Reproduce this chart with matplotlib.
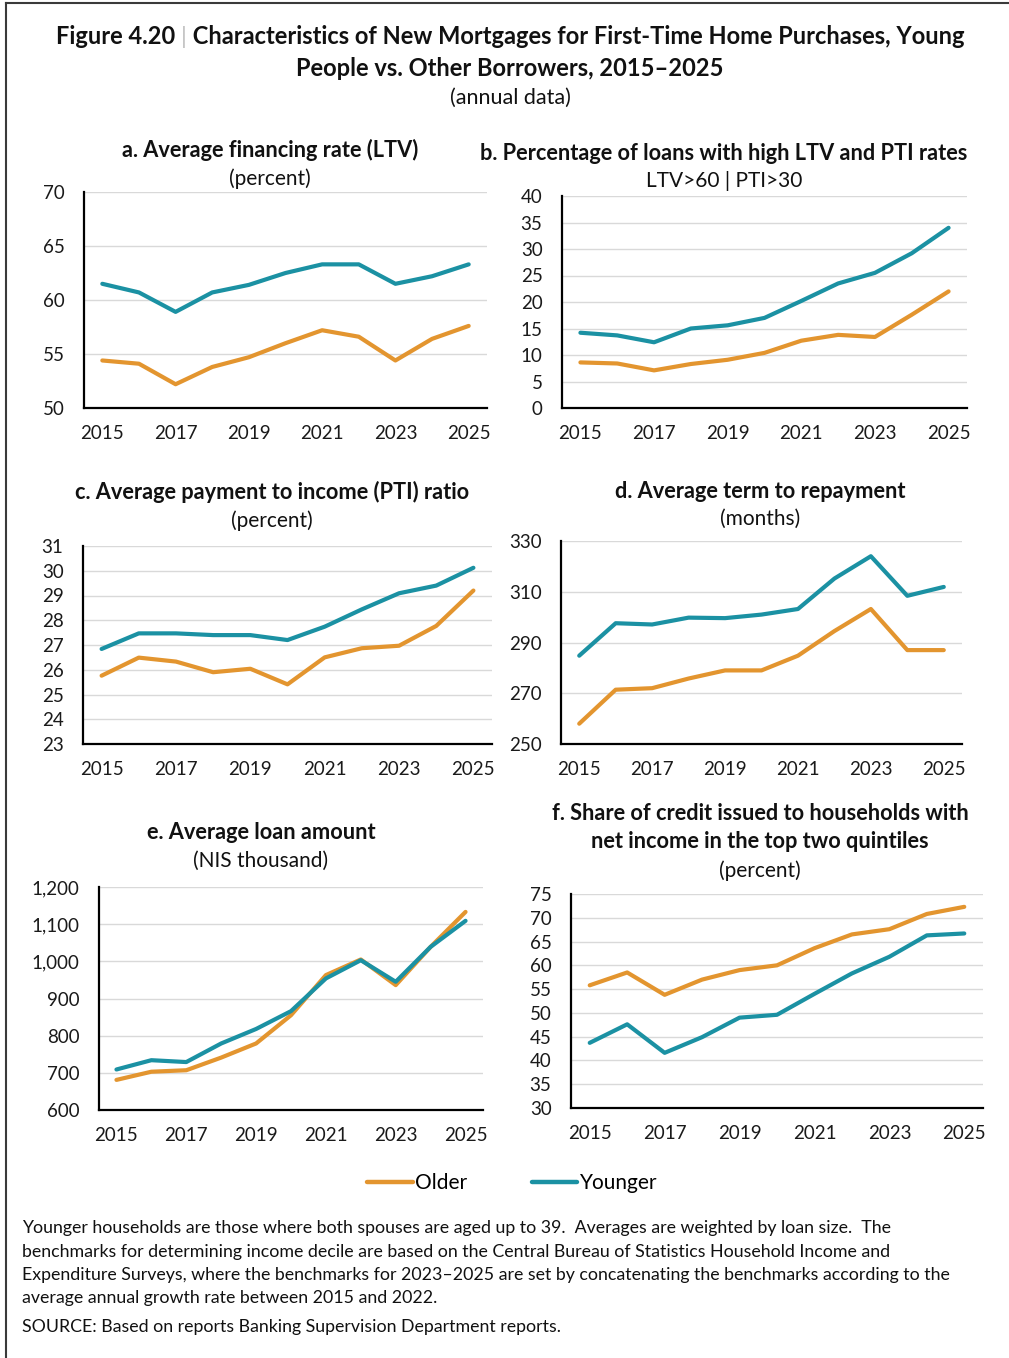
import matplotlib
matplotlib.use("Agg")
import matplotlib.pyplot as plt
from matplotlib.lines import Line2D

plt.rcParams["font.family"] = ["Lato", "DejaVu Sans"]

W, H = 1009, 1358

years = list(range(2015, 2026))
year_ticks = [2015, 2017, 2019, 2021, 2023, 2025]

# a. average LTV (percent)
ltv_young = [61.5, 60.7, 58.9, 60.7, 61.4, 62.5, 63.3, 63.3, 61.5, 62.2, 63.3]
ltv_old = [54.4, 54.1, 52.2, 53.8, 54.7, 56.0, 57.2, 56.6, 54.4, 56.4, 57.6]

# b. share of loans with LTV>60 and PTI>30 (percent)
high_young = [14.2, 13.7, 12.4, 15.0, 15.6, 17.0, 20.2, 23.5, 25.5, 29.2, 34.0]
high_old = [8.6, 8.4, 7.1, 8.3, 9.1, 10.4, 12.7, 13.8, 13.4, 17.6, 22.0]

# c. average PTI (percent)
pti_young = [26.84, 27.47, 27.47, 27.4, 27.4, 27.2, 27.74, 28.44, 29.09, 29.4, 30.12]
pti_old = [25.76, 26.49, 26.33, 25.9, 26.04, 25.41, 26.5, 26.87, 26.97, 27.77, 29.2]

# d. average term to repayment (months)
term_young = [284.8, 297.6, 297.1, 299.8, 299.6, 301.0, 303.2, 315.2, 324.0, 308.4, 311.9]
term_old = [258.0, 271.4, 272.0, 275.8, 279.0, 279.0, 284.8, 294.5, 303.2, 287.0, 287.0]

# e. average loan amount (NIS thousand)
loan_young = [709, 734, 729, 779, 818, 866, 954, 1003, 945, 1039, 1109]
loan_old = [681, 703, 707, 741, 779, 855, 963, 1005, 936, 1039, 1133]

# f. credit share to top two income quintiles (percent)
top_young = [43.7, 47.6, 41.6, 44.9, 49.0, 49.6, 54.0, 58.3, 61.8, 66.3, 66.7]
top_old = [55.8, 58.5, 53.8, 57.0, 59.0, 60.0, 63.6, 66.5, 67.6, 70.8, 72.3]

ORANGE = "#E3952F"
TEAL = "#1B91A3"
GRID = "#D9D9D9"
INK = "#111111"


def px_box(left, top, right, bottom):
    return [left / W, 1 - bottom / H, (right - left) / W, (bottom - top) / H]


def draw_panel(fig, box, young, old, ylim, yticks, fmt=None):
    ax = fig.add_axes(px_box(*box))
    ax.plot(years, old, color=ORANGE, lw=3, solid_capstyle="round", zorder=3)
    ax.plot(years, young, color=TEAL, lw=3, solid_capstyle="round", zorder=4)
    ax.set_xlim(2014.5, 2025.5)
    ax.set_ylim(*ylim)
    ax.set_xticks(year_ticks)
    ax.set_yticks(yticks)
    if fmt:
        ax.set_yticklabels([fmt(v) for v in yticks])
    ax.grid(axis="y", color=GRID, lw=1)
    ax.set_axisbelow(True)
    for s in ("top", "right"):
        ax.spines[s].set_visible(False)
    for s in ("left", "bottom"):
        ax.spines[s].set_linewidth(1.6)
        ax.spines[s].set_color("black")
    ax.tick_params(length=0, labelsize=13.5, colors="#1a1a1a")
    ax.tick_params(axis="y", pad=14)
    ax.tick_params(axis="x", pad=12)
    return ax


def panel_title(fig, x, y, lines, bold_count):
    for i, (txt, yy) in enumerate(zip(lines, y)):
        bold = i < bold_count
        fig.text(x / W, 1 - yy / H, txt, ha="center", va="center",
                 fontsize=15.7 if bold else 15,
                 fontweight="bold" if bold else "normal", color=INK)


fig = plt.figure(figsize=(W / 100, H / 100), dpi=100)

# outer frame: top and left rules
fig.add_artist(Line2D([6 / W, 1], [1 - 3 / H, 1 - 3 / H], color="#3a3a3a", lw=1.5))
fig.add_artist(Line2D([6 / W, 6 / W], [0, 1 - 3 / H], color="#3a3a3a", lw=1.5))

# main heading, with a light grey divider after the figure number
head_prefix = "Figure 4.20 "
head_sep = "|"
head_rest = " Characteristics of New Mortgages for First-Time Home Purchases, Young"
hkw = dict(fontsize=17, fontweight="bold", va="center", color=INK)
fig.canvas.draw()
renderer = fig.canvas.get_renderer()
tmp = fig.text(0, 0, head_prefix + head_sep + head_rest, **hkw)
full_w = tmp.get_window_extent(renderer).width
tmp.set_text(head_prefix)
pre_w = tmp.get_window_extent(renderer).width
tmp.set_text(head_prefix + head_sep)
sep_w = tmp.get_window_extent(renderer).width
tmp.remove()
x0 = 510 - full_w / 2
y1 = 1 - 37 / H
fig.text(x0 / W, y1, head_prefix, ha="left", **hkw)
fig.text((x0 + pre_w) / W, y1, head_sep, ha="left", fontsize=17, va="center",
         color="#BFBFBF")
fig.text((x0 + sep_w) / W, y1, head_rest, ha="left", **hkw)
fig.text(510 / W, 1 - 68 / H, "People vs. Other Borrowers, 2015\u20132025",
         ha="center", **hkw)
fig.text(510 / W, 1 - 98 / H, "(annual data)", ha="center", va="center",
         fontsize=15.5, color=INK)

# panel a
panel_title(fig, 270, [150, 179], ["a. Average financing rate (LTV)", "(percent)"], 1)
draw_panel(fig, (84, 192, 487, 408), ltv_young, ltv_old, (50, 70), [50, 55, 60, 65, 70])

# panel b
panel_title(fig, 724, [154, 181],
            ["b. Percentage of loans with high LTV and PTI rates", "LTV>60 | PTI>30"], 1)
draw_panel(fig, (562, 196, 967, 408), high_young, high_old, (0, 40), list(range(0, 41, 5)))

# panel c
panel_title(fig, 272, [492, 521], ["c. Average payment to income (PTI) ratio", "(percent)"], 1)
draw_panel(fig, (83, 546, 492, 744), pti_young, pti_old, (23, 31), list(range(23, 32)))

# panel d
panel_title(fig, 760, [491, 519], ["d. Average term to repayment", "(months)"], 1)
draw_panel(fig, (561, 541, 962, 744), term_young, term_old, (250, 330), [250, 270, 290, 310, 330])

# panel e
panel_title(fig, 261, [832, 861], ["e. Average loan amount", "(NIS thousand)"], 1)
draw_panel(fig, (99, 887, 483, 1110), loan_young, loan_old, (600, 1200),
           list(range(600, 1201, 100)), fmt=lambda v: f"{v:,}")

# panel f
panel_title(fig, 760, [813, 842, 871],
            ["f. Share of credit issued to households with",
             "net income in the top two quintiles", "(percent)"], 2)
draw_panel(fig, (571, 894, 983, 1108), top_young, top_old, (30, 75), list(range(30, 76, 5)))

# legend
handles = [Line2D([], [], color=ORANGE, lw=3.2, solid_capstyle="round"),
           Line2D([], [], color=TEAL, lw=3.2, solid_capstyle="round")]
fig.legend(handles, ["Older", "Younger"], loc="center", ncol=2,
           bbox_to_anchor=(512 / W, 1 - 1183 / H), frameon=False, fontsize=15,
           handlelength=2.2, handletextpad=0.1, columnspacing=3.1)

notes = [
    "Younger households are those where both spouses are aged up to 39.  Averages are weighted by loan size.  The",
    "benchmarks for determining income decile are based on the Central Bureau of Statistics Household Income and",
    "Expenditure Surveys, where the benchmarks for 2023\u20132025 are set by concatenating the benchmarks according to the",
    "average annual growth rate between 2015 and 2022.",
]
for i, line in enumerate(notes):
    fig.text(22 / W, 1 - (1228 + 23.5 * i) / H, line, ha="left", va="center",
             fontsize=12.8, color=INK)
fig.text(22 / W, 1 - 1327 / H, "SOURCE: Based on reports Banking Supervision Department reports.",
         ha="left", va="center", fontsize=12.8, color=INK)

fig.savefig("out.png", dpi=100, facecolor="white")
